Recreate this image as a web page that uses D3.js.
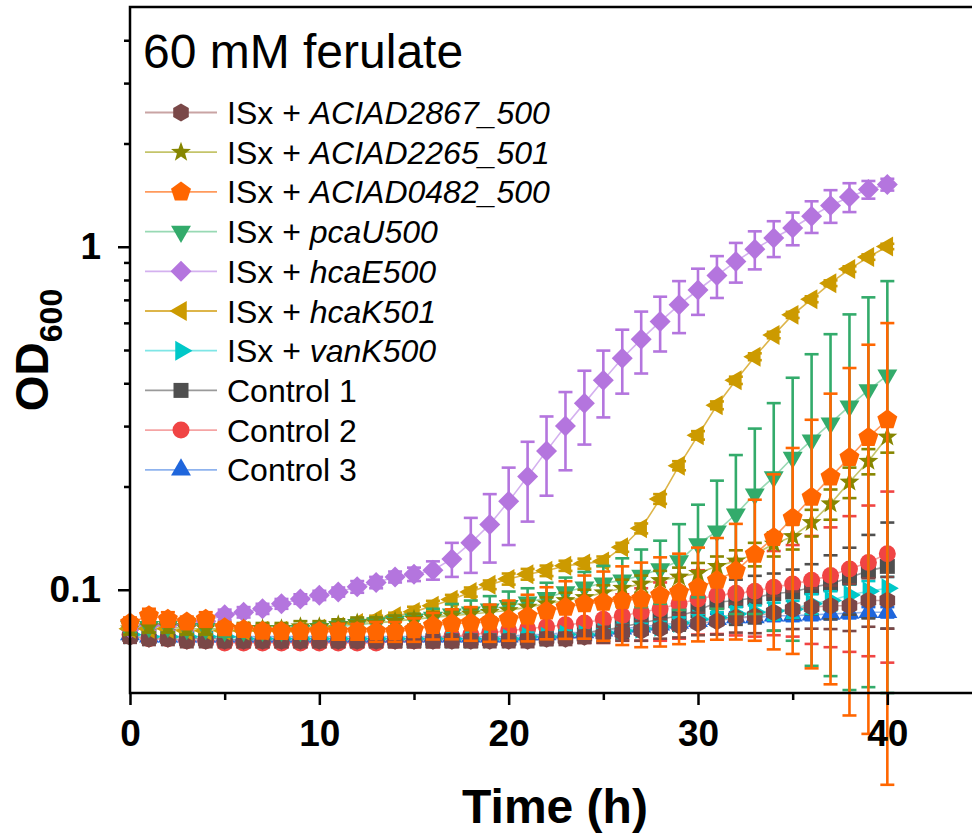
<!DOCTYPE html>
<html>
<head>
<meta charset="utf-8">
<script src="https://cdn.jsdelivr.net/npm/d3@7"></script>
<style>
  body { margin: 0; background: #fff; }
  svg { display: block; font-family: "Liberation Sans", Arial, sans-serif; }
</style>
</head>
<body>
<svg id="chart" width="972" height="835"></svg>
<script>

// ---- data ----

const hours = [0,1,2,3,4,5,6,7,8,9,10,11,12,13,14,15,16,17,18,19,20,
               21,22,23,24,25,26,27,28,29,30,31,32,33,34,35,36,37,38,39,40];

const seriesKeys  = ['aciad2867','aciad2265','aciad0482','pcaU','hcaE','hcaK','vanK','ctrl1','ctrl2','ctrl3'];
const labelPlain  = ['ISx + ','ISx + ','ISx + ','ISx + ','ISx + ','ISx + ','ISx + ','Control 1','Control 2','Control 3'];
const labelItalic = ['ACIAD2867_500','ACIAD2265_501','ACIAD0482_500','pcaU500','hcaE500','hcaK501','vanK500','','',''];
const legendTitle = '60 mM ferulate';

const xTicks      = [0, 10, 20, 30, 40];
const xMinorTicks = [5, 15, 25, 35];
const yTicks      = [0.1, 1];
const yMinorTicks = [0.2, 0.3, 0.4, 0.5, 0.6, 0.7, 0.8, 0.9, 2, 3, 4];

const meanACIAD2867 = [0.073,0.072,0.072,0.071,0.071,0.071,0.071,0.071,0.071,0.071,0.071,0.071,0.071,0.071,0.071,0.071,0.071,0.071,0.071,0.071,0.071,
                       0.071,0.072,0.072,0.073,0.074,0.075,0.076,0.077,0.0786,0.0797,0.081,0.083,0.0837,0.0859,0.0878,0.089,0.0898,0.0898,0.093,0.093];
const sdACIAD2867   = [0.003,0.003,0.003,0.003,0.003,0.003,0.003,0.003,0.003,0.003,0.003,0.003,0.003,0.003,0.003,0.003,0.003,0.003,0.003,0.003,0.003,
                       0.003,0.003,0.003,0.003,0.004,0.004,0.005,0.005,0.006,0.006,0.007,0.008,0.009,0.010,0.011,0.012,0.013,0.014,0.015,0.016];

const meanACIAD2265 = [0.077,0.078,0.078,0.077,0.077,0.077,0.077,0.077,0.077,0.078,0.078,0.079,0.080,0.080,0.081,0.082,0.083,0.084,0.085,0.086,0.087,
                       0.089,0.091,0.093,0.095,0.098,0.101,0.104,0.1065,0.109,0.1117,0.117,0.1213,0.127,0.136,0.143,0.157,0.178,0.206,0.237,0.279];
const sdACIAD2265   = [0.003,0.003,0.003,0.003,0.003,0.003,0.003,0.003,0.003,0.003,0.003,0.003,0.003,0.003,0.003,0.003,0.003,0.003,0.003,0.003,0.004,
                       0.004,0.004,0.005,0.005,0.005,0.006,0.006,0.007,0.007,0.008,0.008,0.009,0.010,0.011,0.012,0.014,0.018,0.021,0.020,0.028];

const meanACIAD0482 = [0.080,0.084,0.082,0.0805,0.082,0.0775,0.0766,0.0757,0.0755,0.0755,0.0755,0.0755,0.0755,0.0755,0.0755,0.0765,0.0786,0.0797,0.080,0.0805,0.082,
                       0.0837,0.0867,0.0889,0.091,0.092,0.093,0.094,0.0963,0.0984,0.1017,0.1065,0.1136,0.127,0.142,0.162,0.186,0.213,0.243,0.278,0.313];
const sdACIAD0482   = [0.003,0.004,0.004,0.003,0.004,0.003,0.003,0.003,0.003,0.003,0.003,0.004,0.004,0.005,0.005,0.006,0.007,0.008,0.009,0.010,0.011,
                       0.013,0.015,0.017,0.019,0.021,0.024,0.026,0.028,0.029,0.031,0.035,0.042,0.056,0.075,0.097,0.127,0.160,0.200,0.240,0.286];

const meanPcaU = [0.078,0.078,0.078,0.077,0.077,0.076,0.076,0.076,0.076,0.076,0.077,0.078,0.079,0.080,0.081,0.082,0.083,0.0849,0.086,0.0878,0.0898,
                  0.092,0.0948,0.0985,0.1017,0.1044,0.1065,0.110,0.115,0.1213,0.136,0.148,0.166,0.190,0.213,0.243,0.273,0.306,0.343,0.382,0.422];
const sdPcaU   = [0.003,0.003,0.003,0.003,0.003,0.003,0.003,0.003,0.003,0.003,0.003,0.003,0.003,0.003,0.003,0.003,0.005,0.006,0.007,0.008,0.009,
                  0.009,0.010,0.010,0.011,0.013,0.017,0.021,0.024,0.034,0.041,0.060,0.081,0.105,0.137,0.172,0.213,0.250,0.292,0.330,0.372];

const meanHcaE = [0.077,0.079,0.079,0.079,0.081,0.0845,0.086,0.088,0.091,0.094,0.0963,0.0985,0.102,0.105,0.109,0.111,0.114,0.123,0.137,0.155,0.181,
                  0.214,0.254,0.300,0.350,0.408,0.473,0.537,0.605,0.677,0.748,0.824,0.906,0.984,1.06,1.134,1.227,1.318,1.397,1.468,1.518];
const sdHcaE   = [0.003,0.003,0.003,0.003,0.003,0.003,0.003,0.003,0.003,0.003,0.003,0.003,0.004,0.004,0.004,0.005,0.007,0.014,0.025,0.035,0.046,
                  0.056,0.066,0.077,0.085,0.090,0.100,0.110,0.110,0.117,0.115,0.115,0.120,0.125,0.127,0.124,0.130,0.144,0.135,0.087,0.060];

const meanHcaK = [0.077,0.077,0.077,0.076,0.076,0.076,0.076,0.076,0.076,0.076,0.077,0.078,0.080,0.082,0.0837,0.0862,0.0898,0.0936,0.0985,0.1034,0.1075,
                  0.111,0.1136,0.1175,0.1192,0.121,0.133,0.151,0.184,0.230,0.282,0.345,0.408,0.478,0.553,0.633,0.703,0.783,0.861,0.933,1.002];
const sdHcaK   = [0.002,0.002,0.002,0.002,0.002,0.002,0.002,0.002,0.002,0.002,0.002,0.002,0.002,0.002,0.002,0.003,0.003,0.003,0.003,0.003,0.004,
                  0.004,0.004,0.004,0.004,0.004,0.004,0.005,0.006,0.007,0.008,0.009,0.010,0.011,0.012,0.013,0.014,0.015,0.016,0.017,0.018];

const meanVanK = [0.074,0.073,0.073,0.073,0.073,0.073,0.072,0.072,0.072,0.072,0.072,0.072,0.072,0.072,0.072,0.072,0.072,0.072,0.072,0.072,0.072,
                  0.073,0.073,0.074,0.074,0.075,0.076,0.077,0.078,0.080,0.082,0.083,0.085,0.086,0.0867,0.0878,0.091,0.093,0.0965,0.099,0.101];
const sdVanK   = [0.002,0.002,0.002,0.002,0.002,0.002,0.002,0.002,0.002,0.002,0.002,0.002,0.002,0.002,0.002,0.002,0.002,0.002,0.002,0.002,0.002,
                  0.002,0.002,0.002,0.002,0.002,0.003,0.003,0.003,0.003,0.003,0.003,0.004,0.004,0.005,0.005,0.006,0.006,0.007,0.007,0.008];

const meanCtrl1 = [0.074,0.073,0.073,0.072,0.072,0.072,0.071,0.071,0.071,0.071,0.071,0.071,0.071,0.071,0.071,0.071,0.071,0.071,0.071,0.072,0.072,
                   0.073,0.073,0.074,0.075,0.076,0.078,0.080,0.082,0.084,0.087,0.092,0.093,0.0948,0.0975,0.0985,0.1017,0.104,0.1086,0.1135,0.117];
const sdCtrl1   = [0.002,0.002,0.002,0.002,0.002,0.002,0.002,0.002,0.002,0.002,0.002,0.002,0.002,0.002,0.002,0.002,0.002,0.002,0.002,0.002,0.003,
                   0.003,0.004,0.004,0.005,0.005,0.006,0.006,0.007,0.008,0.009,0.012,0.014,0.015,0.014,0.016,0.017,0.022,0.024,0.031,0.040];

const meanCtrl2 = [0.074,0.072,0.072,0.071,0.071,0.070,0.070,0.070,0.070,0.070,0.070,0.070,0.070,0.070,0.071,0.071,0.072,0.073,0.074,0.075,0.076,
                   0.077,0.078,0.079,0.080,0.082,0.084,0.086,0.088,0.091,0.094,0.0963,0.0976,0.099,0.1017,0.104,0.1065,0.110,0.1149,0.120,0.1273];
const sdCtrl2   = [0.002,0.002,0.002,0.002,0.002,0.002,0.002,0.002,0.002,0.002,0.002,0.002,0.002,0.002,0.003,0.003,0.004,0.004,0.005,0.005,0.006,
                   0.007,0.008,0.009,0.010,0.012,0.013,0.015,0.017,0.019,0.020,0.022,0.024,0.026,0.028,0.031,0.037,0.042,0.049,0.056,0.066];

const meanCtrl3 = [0.074,0.073,0.073,0.073,0.073,0.073,0.073,0.073,0.073,0.073,0.073,0.073,0.073,0.073,0.073,0.073,0.073,0.073,0.073,0.073,0.073,
                   0.074,0.074,0.075,0.075,0.076,0.077,0.078,0.079,0.080,0.081,0.082,0.083,0.083,0.084,0.084,0.0845,0.085,0.0855,0.086,0.086];
const sdCtrl3   = [0.002,0.002,0.002,0.002,0.002,0.002,0.002,0.002,0.002,0.002,0.002,0.002,0.002,0.002,0.002,0.002,0.002,0.002,0.002,0.002,0.002,
                   0.002,0.002,0.002,0.002,0.002,0.002,0.002,0.002,0.002,0.003,0.003,0.003,0.003,0.003,0.003,0.003,0.003,0.003,0.003,0.003];


const vis = {

    svg : d3.select('#chart'),

    frame : { left : 130, right : 982, top : 7, bottom : 693 },

    look : {
        aciad2867 : { color : '#7a4848', line : '#c9a4a4', shape : 'hexagon' },
        aciad2265 : { color : '#868600', line : '#c4c46a', shape : 'star' },
        aciad0482 : { color : '#ff6600', line : '#ff9a5c', shape : 'pentagon' },
        pcaU      : { color : '#33ab6b', line : '#98d9b4', shape : 'triDown' },
        hcaE      : { color : '#b475de', line : '#d4b1ef', shape : 'diamond' },
        hcaK      : { color : '#cc9a00', line : '#ddb54a', shape : 'triLeft' },
        vanK      : { color : '#00c8c8', line : '#7fe6e6', shape : 'triRight' },
        ctrl1     : { color : '#4f4f4f', line : '#9a9a9a', shape : 'square' },
        ctrl2     : { color : '#f04444', line : '#f5a4a4', shape : 'circle' },
        ctrl3     : { color : '#1f66dc', line : '#8fb3ee', shape : 'triUp' }
    },

    // bottom to top
    draw_order : ['ctrl3','ctrl1','ctrl2','vanK','aciad2867','hcaE','hcaK','pcaU','aciad2265','aciad0482'],

    values : {
        aciad2867 : [meanACIAD2867, sdACIAD2867],
        aciad2265 : [meanACIAD2265, sdACIAD2265],
        aciad0482 : [meanACIAD0482, sdACIAD0482],
        pcaU      : [meanPcaU, sdPcaU],
        hcaE      : [meanHcaE, sdHcaE],
        hcaK      : [meanHcaK, sdHcaK],
        vanK      : [meanVanK, sdVanK],
        ctrl1     : [meanCtrl1, sdCtrl1],
        ctrl2     : [meanCtrl2, sdCtrl2],
        ctrl3     : [meanCtrl3, sdCtrl3]
    },

    x : null,
    y : null,

    shape_path : function(shape) {

        const poly = (n, start, r) => {
            const pts = d3.range(n).map(i => {
                const a = start + i * 2 * Math.PI / n;
                return [r * Math.cos(a), r * Math.sin(a)];
            });
            return 'M' + pts.map(p => p[0].toFixed(2) + ',' + p[1].toFixed(2)).join('L') + 'Z';
        };

        const up = -Math.PI / 2;

        switch (shape) {
            case 'hexagon'  : return poly(6, up, 9);
            case 'pentagon' : return poly(5, up, 10.5);
            case 'diamond'  : return poly(4, up, 10.5);
            case 'square'   : return poly(4, -Math.PI / 4, 10.6);
            case 'triUp'    : return poly(3, up, 11.5);
            case 'triDown'  : return poly(3, Math.PI / 2, 11.5);
            case 'triLeft'  : return poly(3, Math.PI, 11.5);
            case 'triRight' : return poly(3, 0, 11.5);
            case 'circle'   : return 'M8.5,0A8.5,8.5 0 1,1 -8.5,0A8.5,8.5 0 1,1 8.5,0Z';
            case 'star'     : {
                const pts = d3.range(10).map(i => {
                    const a = up + i * Math.PI / 5;
                    const r = i % 2 ? 4.3 : 10.5;
                    return [r * Math.cos(a), r * Math.sin(a)];
                });
                return 'M' + pts.map(p => p[0].toFixed(2) + ',' + p[1].toFixed(2)).join('L') + 'Z';
            }
        }
    },

    scales : function() {

        this.x = d3.scaleLinear().domain([0, 45]).range([this.frame.left, this.frame.right]);
        this.y = d3.scaleLog().domain([0.05, 5]).range([this.frame.bottom, this.frame.top]);

    },

    axes : function() {

        const svg = this.svg, f = this.frame;

        // x axis
        const gx = svg.append('g').attr('transform', `translate(0,${f.bottom})`);
        gx.call(d3.axisBottom(this.x).tickValues(xTicks).tickSize(12).tickSizeOuter(0).tickFormat(d => d));
        gx.call(g => g.select('.domain').remove());
        gx.selectAll('line').attr('stroke', '#000').attr('stroke-width', 2.5);
        gx.selectAll('text')
          .attr('y', 53).attr('dy', null)
          .attr('font-size', 37).attr('font-weight', 'bold')
          .attr('font-family', '"Liberation Sans", Arial, sans-serif').attr('fill', '#000');

        const gxm = svg.append('g').attr('transform', `translate(0,${f.bottom})`);
        gxm.call(d3.axisBottom(this.x).tickValues(xMinorTicks).tickSize(7).tickSizeOuter(0).tickFormat(''));
        gxm.call(g => g.select('.domain').remove());
        gxm.selectAll('line').attr('stroke', '#000').attr('stroke-width', 2.5);

        // y axis
        const gy = svg.append('g').attr('transform', `translate(${f.left},0)`);
        gy.call(d3.axisLeft(this.y).tickValues(yTicks).tickSize(12).tickPadding(17).tickSizeOuter(0).tickFormat(d => d));
        gy.call(g => g.select('.domain').remove());
        gy.selectAll('line').attr('stroke', '#000').attr('stroke-width', 2.5);
        gy.selectAll('text')
          .attr('font-size', 37).attr('font-weight', 'bold')
          .attr('font-family', '"Liberation Sans", Arial, sans-serif').attr('fill', '#000');

        const gym = svg.append('g').attr('transform', `translate(${f.left},0)`);
        gym.call(d3.axisLeft(this.y).tickValues(yMinorTicks).tickSize(6).tickSizeOuter(0).tickFormat(''));
        gym.call(g => g.select('.domain').remove());
        gym.selectAll('line').attr('stroke', '#000').attr('stroke-width', 2.5);

        // frame lines (left, bottom, top)
        svg.append('path')
           .attr('d', `M${f.right},${f.top}H${f.left}V${f.bottom}H${f.right}`)
           .attr('fill', 'none').attr('stroke', '#000').attr('stroke-width', 2.5)
           .attr('stroke-linecap', 'square');

        // titles
        svg.append('text')
           .attr('x', 555).attr('y', 823)
           .attr('text-anchor', 'middle')
           .attr('font-size', 48).attr('font-weight', 'bold')
           .text('Time (h)');

        const yt = svg.append('text')
           .attr('transform', 'translate(48,350) rotate(-90)')
           .attr('text-anchor', 'middle')
           .attr('font-size', 46).attr('font-weight', 'bold');
        yt.append('tspan').text('OD');
        yt.append('tspan').attr('font-size', 32).attr('dy', 14).text('600');

    },

    series : function() {

        const x = this.x, y = this.y;
        const rows = key => hours.map((h, i) => ({ t : h, m : this.values[key][0][i], s : this.values[key][1][i] }));

        const line = d3.line().x(d => x(d.t)).y(d => y(d.m));

        const gl = this.svg.append('g');
        this.draw_order.forEach(key => {
            gl.append('path')
              .datum(rows(key))
              .attr('d', line)
              .attr('fill', 'none')
              .attr('stroke', this.look[key].line)
              .attr('stroke-width', 1.6);
        });

        this.draw_order.forEach(key => {

            const lk = this.look[key];
            const g = this.svg.append('g');
            const data = rows(key);

            const eb = g.selectAll('g.eb').data(data).join('g').attr('class', 'eb')
                        .attr('stroke', lk.color).attr('stroke-width', 2.6);

            eb.append('line')
              .attr('x1', d => x(d.t)).attr('x2', d => x(d.t))
              .attr('y1', d => y(d.m + d.s)).attr('y2', d => y(d.m - d.s));
            eb.append('line')
              .attr('x1', d => x(d.t) - 7).attr('x2', d => x(d.t) + 7)
              .attr('y1', d => y(d.m + d.s)).attr('y2', d => y(d.m + d.s));
            eb.append('line')
              .attr('x1', d => x(d.t) - 7).attr('x2', d => x(d.t) + 7)
              .attr('y1', d => y(d.m - d.s)).attr('y2', d => y(d.m - d.s));

            g.selectAll('path.mk').data(data).join('path').attr('class', 'mk')
             .attr('d', this.shape_path(lk.shape))
             .attr('transform', d => `translate(${x(d.t)},${y(d.m)})`)
             .attr('fill', lk.color);

        });

    },

    legend : function() {

        const svg = this.svg;

        svg.append('text')
           .attr('x', 143).attr('y', 68)
           .attr('font-size', 48)
           .text(legendTitle);

        const row0 = 112.5, step = 39.7;

        seriesKeys.forEach((key, i) => {

            const lk = this.look[key];
            const cy = row0 + i * step;

            svg.append('line')
               .attr('x1', 145).attr('x2', 217).attr('y1', cy).attr('y2', cy)
               .attr('stroke', lk.line).attr('stroke-width', 1.8);

            svg.append('path')
               .attr('d', this.shape_path(lk.shape))
               .attr('transform', `translate(181,${cy})`)
               .attr('fill', lk.color);

            const t = svg.append('text')
               .attr('x', 227).attr('y', cy + 11.5)
               .attr('font-size', 32).attr('fill', '#000');
            t.append('tspan').attr('xml:space', 'preserve').text(labelPlain[i]);
            if (labelItalic[i]) t.append('tspan').attr('font-style', 'italic').text(labelItalic[i]);

        });

    },

    ctrl : {

        init : function() {
            vis.scales();
            vis.series();
            vis.axes();
            vis.legend();
        }

    }

}

vis.ctrl.init();
</script>
</body>
</html>
